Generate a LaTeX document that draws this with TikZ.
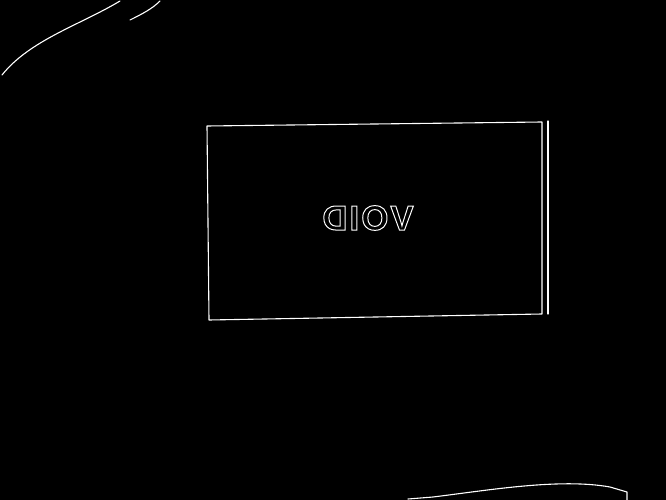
\documentclass[tikz,border=0pt]{standalone}
\usepackage{fontspec}
\setmainfont{Liberation Sans}
\usepackage{graphicx}
\tikzset{edge/.style={draw=white, line width=1.1bp, line cap=round, line join=round}}
\begin{document}
\begin{tikzpicture}[x=1bp, y=-1bp]
\fill[black] (0,0) rectangle (666,500);
\useasboundingbox (0,0) rectangle (666,500);
% card outline
\coordinate (tl) at (207,126);
\coordinate (tr) at (542,122);
\coordinate (br) at (542,314);
\coordinate (bl) at (209,320);
\draw[edge] (tl) -- (tr) -- (br) -- (bl) -- cycle;
\coordinate (st) at (548,121);
\coordinate (sb) at (548,314);
\draw[edge] (st) -- (sb);
% mirrored label
\node[text=white, inner sep=0pt, font=\bfseries\fontsize{35}{35}\selectfont] (label) at (368,218)
  {\reflectbox{\special{pdf:literal direct 1 1 1 RG 1 w 1 Tr}V\kern2bp O\kern2bp I\kern2bp D\special{pdf:literal direct 0 Tr}}};
% curves
\coordinate (c1a) at (2,75);
\coordinate (c1b) at (120,1);
\draw[edge] (c1a) .. controls (30,40) and (80,25) .. (c1b);
\coordinate (c2a) at (130,20);
\coordinate (c2b) at (160,1);
\draw[edge] (c2a) .. controls (142,14) and (152,9) .. (c2b);
\coordinate (c3a) at (408,499);
\coordinate (c3b) at (627,500);
\draw[edge] (c3a) -- (433,497) .. controls (490,490) and (560,478) .. (610,487) -- (627,492) -- (c3b);
\end{tikzpicture}
\end{document}
